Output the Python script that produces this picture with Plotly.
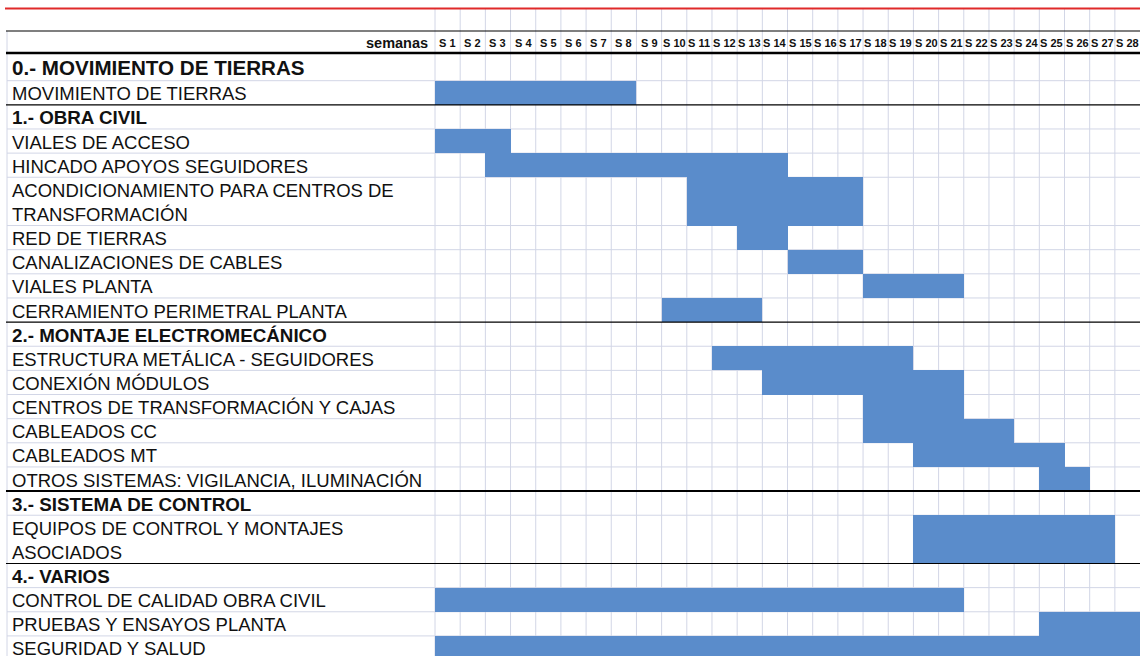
import plotly.graph_objects as go

# ---------------------------------------------------------------------------
# Data
# ---------------------------------------------------------------------------

week_labels = [
    "S 1", "S 2", "S 3", "S 4", "S 5", "S 6", "S 7", "S 8", "S 9", "S 10",
    "S 11", "S 12", "S 13", "S 14", "S 15", "S 16", "S 17", "S 18", "S 19",
    "S 20", "S 21", "S 22", "S 23", "S 24", "S 25", "S 26", "S 27", "S 28",
]

row_labels = [
    "0.- MOVIMIENTO DE TIERRAS",
    "MOVIMIENTO DE TIERRAS",
    "1.- OBRA CIVIL",
    "VIALES DE ACCESO",
    "HINCADO APOYOS SEGUIDORES",
    "ACONDICIONAMIENTO PARA CENTROS DE<br>TRANSFORMACIÓN",
    "RED DE TIERRAS",
    "CANALIZACIONES DE CABLES",
    "VIALES PLANTA",
    "CERRAMIENTO PERIMETRAL PLANTA",
    "2.- MONTAJE ELECTROMECÁNICO",
    "ESTRUCTURA METÁLICA - SEGUIDORES",
    "CONEXIÓN MÓDULOS",
    "CENTROS DE TRANSFORMACIÓN Y CAJAS",
    "CABLEADOS CC",
    "CABLEADOS MT",
    "OTROS SISTEMAS: VIGILANCIA, ILUMINACIÓN",
    "3.- SISTEMA DE CONTROL",
    "EQUIPOS DE CONTROL Y MONTAJES<br>ASOCIADOS",
    "4.- VARIOS",
    "CONTROL DE CALIDAD OBRA CIVIL",
    "PRUEBAS Y ENSAYOS PLANTA",
    "SEGURIDAD Y SALUD",
]

row_kind = [
    "title", "task", "section", "task", "task", "task", "task", "task", "task",
    "task", "section", "task", "task", "task", "task", "task", "task",
    "section", "task", "section", "task", "task", "task",
]

# first and last week of each task (None for section headings)
start_week = [None, 1, None, 1, 3, 11, 13, 15, 18, 10, None, 12, 14, 18, 18,
              20, 25, None, 20, None, 1, 25, 1]
end_week = [None, 8, None, 3, 14, 17, 14, 17, 21, 13, None, 19, 21, 21, 23,
            25, 26, None, 27, None, 21, 28, 28]

# ---------------------------------------------------------------------------
# Layout helpers (table geometry)
# ---------------------------------------------------------------------------

W, H = 1140, 656
GRID_X0 = 435          # pixel where week columns start
WEEK_PX = 25.18        # pixel width of one week column
LINE_PX = 24.14        # height of one text line row
HEAD_TOP, HEAD_BOT = 31, 53
TITLE_ROW_PX = 27.7

BAR_COLOUR = "#5A8CCB"
GRID_COLOUR = "#D2D6E6"
TEXT_COLOUR = "#111111"
FONT = "Arial, Liberation Sans, sans-serif"


def px_to_week(px):
    return (px - GRID_X0) / WEEK_PX


X_LEFT = px_to_week(0)
X_RIGHT = px_to_week(W)
X_LABEL_BORDER = px_to_week(7)
X_TEXT = px_to_week(10)

# row boundaries (y in pixels, top->down)
tops, bottoms = [], []
y = HEAD_BOT
for label, kind in zip(row_labels, row_kind):
    if kind == "title":
        h = TITLE_ROW_PX
    else:
        h = LINE_PX * (label.count("<br>") + 1)
    tops.append(y)
    bottoms.append(y + h)
    y += h

fig = go.Figure()

# bars
bar_y, bar_x, bar_base, bar_w = [], [], [], []
for i, (s, e) in enumerate(zip(start_week, end_week)):
    if s is None:
        continue
    bar_y.append((tops[i] + bottoms[i]) / 2)
    bar_x.append(e - s + 1)
    bar_base.append(s - 1)
    bar_w.append(bottoms[i] - tops[i])

fig.add_trace(go.Bar(
    orientation="h",
    y=bar_y,
    x=bar_x,
    base=bar_base,
    width=bar_w,
    marker={"color": BAR_COLOUR, "line": {"width": 0}},
    hoverinfo="skip",
    showlegend=False,
))

shapes = []

# vertical grid lines of the week columns
for k in range(len(week_labels)):
    shapes.append(dict(type="line", layer="below", x0=k, x1=k, y0=9, y1=H,
                       line={"color": GRID_COLOUR, "width": 1}))
# left border of label column
shapes.append(dict(type="line", layer="below", x0=X_LABEL_BORDER,
                   x1=X_LABEL_BORDER, y0=HEAD_TOP, y1=H,
                   line={"color": GRID_COLOUR, "width": 1}))

# horizontal row lines
for i, kind in enumerate(row_kind):
    yb = bottoms[i]
    nxt = row_kind[i + 1] if i + 1 < len(row_kind) else None
    if nxt == "section":
        width = 2 if row_labels[i + 1].startswith("3.-") else 1.2
        shapes.append(dict(type="line", layer="above", x0=X_LABEL_BORDER - 0.04,
                           x1=X_RIGHT, y0=yb, y1=yb,
                           line={"color": "#000000", "width": width}))
    else:
        shapes.append(dict(type="line", layer="below", x0=X_LABEL_BORDER,
                           x1=X_RIGHT, y0=yb, y1=yb,
                           line={"color": GRID_COLOUR, "width": 1}))

# header lines
shapes.append(dict(type="line", x0=X_LABEL_BORDER - 0.04, x1=X_RIGHT,
                   y0=HEAD_TOP, y1=HEAD_TOP,
                   line={"color": "#000000", "width": 1.2}))
shapes.append(dict(type="line", x0=X_LABEL_BORDER - 0.04, x1=X_RIGHT,
                   y0=HEAD_BOT, y1=HEAD_BOT,
                   line={"color": "#000000", "width": 2.6}))
# red top rule
shapes.append(dict(type="line", x0=px_to_week(5), x1=X_RIGHT, y0=8.5, y1=8.5,
                   line={"color": "#E02A2A", "width": 2}))

annotations = []

# header texts
annotations.append(dict(x=px_to_week(430), y=42.5, text="<b>semanas</b>",
                        xanchor="right", yanchor="middle", showarrow=False,
                        font={"family": FONT, "size": 14.5, "color": TEXT_COLOUR}))
for k, wl in enumerate(week_labels):
    annotations.append(dict(x=k + 0.5, y=43, text=f"<b>{wl}</b>",
                            xanchor="center", yanchor="middle", showarrow=False,
                            font={"family": FONT, "size": 11,
                                  "color": TEXT_COLOUR}))

# row labels
for i, (label, kind) in enumerate(zip(row_labels, row_kind)):
    if kind == "title":
        size, bold = 20.6, True
    elif kind == "section":
        size, bold = 18.8, True
    else:
        size, bold = 18.5, False
    lines = label.split("<br>")
    for j, ln in enumerate(lines):
        yc = tops[i] + (j + 0.5) * (bottoms[i] - tops[i]) / len(lines) + 1
        annotations.append(dict(
            x=X_TEXT, y=yc, text=f"<b>{ln}</b>" if bold else ln,
            xanchor="left", yanchor="middle", showarrow=False,
            font={"family": FONT, "size": size, "color": TEXT_COLOUR},
        ))

fig.update_layout(
    width=W,
    height=H,
    margin={"l": 0, "r": 0, "t": 0, "b": 0},
    paper_bgcolor="white",
    plot_bgcolor="white",
    bargap=0,
    xaxis={"range": [X_LEFT, X_RIGHT], "visible": False, "fixedrange": True},
    yaxis={"range": [H, 0], "visible": False, "fixedrange": True},
    shapes=shapes,
    annotations=annotations,
)

fig.write_html(
    "out.html",
    config={"displayModeBar": False},
    post_script="document.body.style.margin='0';document.body.style.overflow='hidden';",
)
